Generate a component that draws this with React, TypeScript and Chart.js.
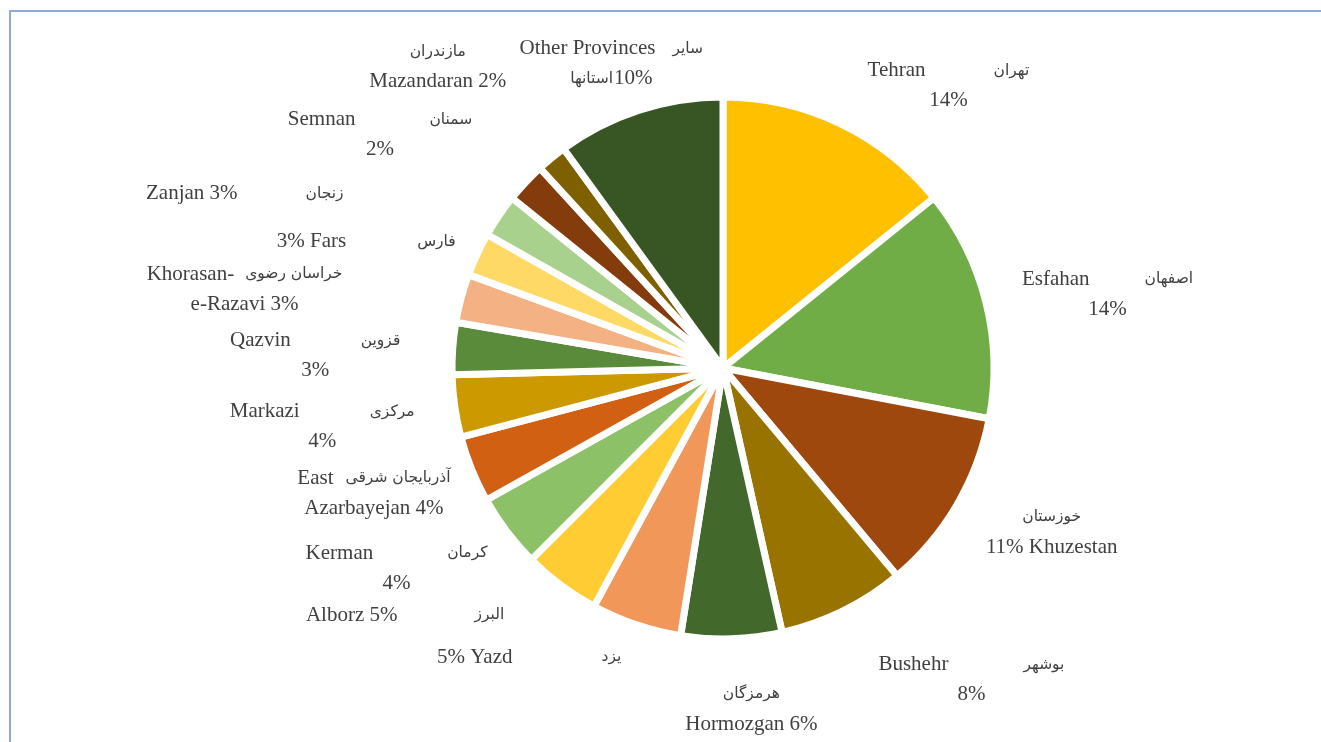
import React, { useEffect, useRef } from "react";
import { Chart, registerables } from "chart.js";

Chart.register(...registerables);

// ---- data ----
const categories = [
  "Tehran", "Esfahan", "Khuzestan", "Bushehr", "Hormozgan", "Yazd", "Alborz", "Kerman",
  "East Azarbayejan", "Markazi", "Qazvin", "Khorasan-e-Razavi", "Fars", "Zanjan", "Semnan",
  "Mazandaran", "Other Provinces",
];
const persianNames = [
  "تهران", "اصفهان", "خوزستان", "بوشهر", "هرمزگان", "یزد", "البرز", "کرمان",
  "آذربایجان شرقی", "مرکزی", "قزوین", "خراسان رضوی", "فارس", "زنجان", "سمنان",
  "مازندران", "سایر استانها",
];
const shares = [14.2, 13.8, 10.9, 7.6, 6.0, 5.4, 4.6, 4.4, 4.0, 3.7, 3.1, 2.9, 2.6, 2.6, 2.4, 1.8, 10.0];

// label text templates ({en}, {fa}, {p}); each line is a list of tokens
const labelLines: string[][][] = [
  [["{en}", "{fa}"], ["{p}"]],
  [["{en}", "{fa}"], ["{p}"]],
  [["{fa}"], ["{p} {en}"]],
  [["{en}", "{fa}"], ["{p}"]],
  [["{fa}"], ["{en} {p}"]],
  [["{p} {en}", "{fa}"]],
  [["{en} {p}", "{fa}"]],
  [["{en}", "{fa}"], ["{p}"]],
  [["East", "{fa}"], ["Azarbayejan {p}"]],
  [["{en}", "{fa}"], ["{p}"]],
  [["{en}", "{fa}"], ["{p}"]],
  [["Khorasan-", "{fa}"], ["e-Razavi {p}"]],
  [["{p} {en}", "{fa}"]],
  [["{en} {p}", "{fa}"]],
  [["{en}", "{fa}"], ["{p}"]],
  [["{fa}"], ["{en} {p}"]],
  [["{en}", "سایر"], ["استانها", "{p}"]],
];

// ---- layout / style (not data) ----
const colors = [
  "#FFC000", "#70AD47", "#9E480E", "#997300", "#43682B", "#F1975A", "#FFCD33", "#8CC168",
  "#D26012", "#CC9A00", "#5A8B3A", "#F4B183", "#FFD966", "#A9D18E", "#843C0C", "#7F6000", "#375623",
];
const labelOffsets: [number, number][] = [
  [110, -56], [125, -24], [98, 14], [130, 57], [20, 59], [-108, 36], [-158, 33], [-113, 24],
  [-101, 10], [-136, 6], [-141, -8], [-220, -25], [-114, -14], [-257, -24], [-148, -65],
  [-116, -109], [-29, -65],
];
const firstLineGaps = [68, 55, 0, 75, 0, 89, 77, 74, 12, 70, 70, 11, 71, 68, 74, 0, 17];

const EN_FONT = '21px "Liberation Serif", "Times New Roman", serif';
const FA_FONT = '15.5px "DejaVu Sans", sans-serif';
const TEXT_COLOR = "#404040";
const LINE_H = 30;
const BORDER_W = 7;

export default function App() {
  const canvasRef = useRef<HTMLCanvasElement | null>(null);

  useEffect(() => {
    document.body.style.overflow = "hidden";
    const canvas = canvasRef.current;
    if (!canvas) return;
    const total = shares.reduce((a, b) => a + b, 0);

    const labelPlugin = {
      id: "pieLabels",
      afterDatasetsDraw(chart: any) {
        const ctx = chart.ctx as CanvasRenderingContext2D;
        const meta = chart.getDatasetMeta(0);
        ctx.save();
        ctx.fillStyle = TEXT_COLOR;
        ctx.textBaseline = "middle";
        ctx.textAlign = "left";
        meta.data.forEach((arc: any, i: number) => {
          const { x, y, startAngle, endAngle, outerRadius } = arc.getProps(
            ["x", "y", "startAngle", "endAngle", "outerRadius"], true);
          const mid = (startAngle + endAngle) / 2;
          const R = outerRadius - BORDER_W / 2;
          const ax = x + Math.cos(mid) * R;
          const ay = y + Math.sin(mid) * R;
          const cx = ax + labelOffsets[i][0];
          const cy = ay + labelOffsets[i][1];
          const pct = Math.round((shares[i] / total) * 100) + "%";
          labelLines[i].forEach((line, li) => {
            const toks = line.map((t) =>
              t.replace("{en}", categories[i]).replace("{fa}", persianNames[i]).replace("{p}", pct));
            const fonts = toks.map((t) => (/[\u0600-\u06FF]/.test(t) ? FA_FONT : EN_FONT));
            const widths = toks.map((t, k) => {
              ctx.font = fonts[k];
              return ctx.measureText(t).width;
            });
            const gap = li === 0 ? firstLineGaps[i] : 1;
            const totalW = widths.reduce((a, b) => a + b, 0) + gap * (toks.length - 1);
            let tx = cx - totalW / 2;
            const ty = cy + li * LINE_H;
            toks.forEach((t, k) => {
              ctx.font = fonts[k];
              ctx.fillText(t, tx, ty);
              tx += widths[k] + gap;
            });
          });
        });
        ctx.restore();
      },
    };

    const chart = new Chart(canvas, {
      type: "pie",
      data: {
        labels: categories,
        datasets: [
          {
            data: shares,
            backgroundColor: colors,
            borderColor: "#FFFFFF",
            borderWidth: BORDER_W,
            hoverOffset: 0,
          },
        ],
      },
      options: {
        responsive: false,
        animation: false,
        radius: 271,
        layout: { padding: { left: 125, right: 0, top: 0, bottom: 6 } },
        plugins: {
          legend: { display: false },
          tooltip: { enabled: false },
        },
      },
      plugins: [labelPlugin],
    } as any);

    return () => chart.destroy();
  }, []);

  return (
    <div>
      <div
        style={{
          position: "fixed",
          left: 9,
          top: 10,
          width: 1400,
          height: 800,
          border: "2px solid #8EA9DB",
          boxSizing: "border-box",
        }}
      />
      <canvas
        ref={canvasRef}
        width={1321}
        height={742}
        style={{ position: "fixed", left: 0, top: 0, width: 1321, height: 742 }}
      />
    </div>
  );
}
